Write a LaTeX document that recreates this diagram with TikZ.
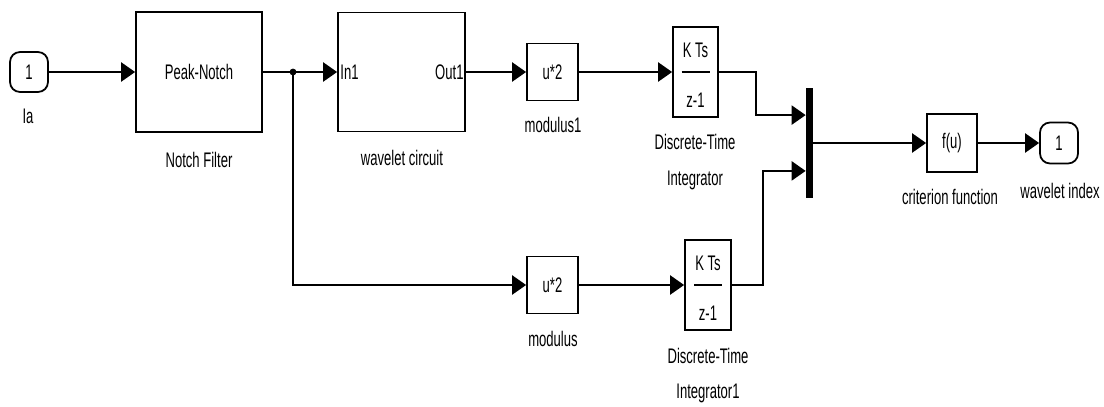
\documentclass[tikz,border=0pt]{standalone}
\usepackage{fontspec}
\setsansfont{Liberation Sans}[FakeStretch=0.62]
\usetikzlibrary{arrows.meta,calc,positioning}

\newcommand{\blkfont}{\fontsize{12}{14}\selectfont\sffamily}

\tikzset{
  blk/.style={draw, line width=1pt, inner sep=0pt, font=\blkfont},
  port/.style={draw, line width=1pt, rounded corners=0.2cm, inner sep=0pt,
    minimum width=0.76cm, minimum height=0.8cm, font=\blkfont},
  lbl/.style={inner sep=0pt, font=\blkfont},
  sig/.style={line width=1.3pt, -{Triangle[length=0.28cm,width=0.38cm]}},
  wire/.style={line width=1.3pt},
}

\begin{document}
\begin{tikzpicture}[x=0.02cm, y=-0.02cm]
\useasboundingbox (0,0) rectangle (1104,406);

% upper path
\node[port] (ia) at (29,72) {1};
\node[lbl] (ialbl) at (28,116) {Ia};

\node[blk, minimum width=2.52cm, minimum height=2.4cm] (notch) at (199,72) {Peak-Notch};
\node[lbl] (notchlbl) at (199,160) {Notch Filter};

\node[blk, minimum width=2.54cm, minimum height=2.38cm] (wav) at (401.5,72) {};
\node[lbl, anchor=west] (in1) at ($(wav.west) + (3,0)$) {In1};
\node[lbl, anchor=east] (out1) at ($(wav.east) + (-2,0)$) {Out1};
\node[lbl] (wavlbl) at (402,158) {wavelet circuit};

\node[blk, minimum width=1.02cm, minimum height=1.14cm] (mod1) at (552.5,72) {u*2};
\node[lbl] (mod1lbl) at (553,125) {modulus1};

\node[blk, minimum width=0.9cm, minimum height=1.8cm] (int1) at (695.5,72) {};
\node[lbl] (int1num) at ($(int1) + (0,-22)$) {K Ts};
\node[lbl] (int1den) at ($(int1) + (0,28)$) {z-1};
\draw[line width=1.1pt] ($(int1) + (-14,0)$) -- ($(int1) + (14,0)$);
\node[lbl] (int1lbla) at (695,142) {Discrete-Time};
\node[lbl] (int1lblb) at (695,180) {Integrator};

% lower path
\node[blk, minimum width=1.02cm, minimum height=1.14cm] (mod2) at (552.5,285) {u*2};
\node[lbl] (mod2lbl) at (553,339) {modulus};

\node[blk, minimum width=0.92cm, minimum height=1.8cm] (int2) at (708,285) {};
\node[lbl] (int2num) at ($(int2) + (0,-22)$) {K Ts};
\node[lbl] (int2den) at ($(int2) + (0,28)$) {z-1};
\draw[line width=1.1pt] ($(int2) + (-14,0)$) -- ($(int2) + (14,0)$);
\node[lbl] (int2lbla) at (708,356) {Discrete-Time};
\node[lbl] (int2lblb) at (708,393) {Integrator1};

% mux and output
\node[fill, inner sep=0pt, minimum width=0.14cm, minimum height=2.22cm] (mux) at (809.5,143) {};
\coordinate (muxa) at ($(mux.north west)!0.25!(mux.south west)$);
\coordinate (muxb) at ($(mux.north west)!0.75!(mux.south west)$);

\node[blk, minimum width=1cm, minimum height=1.16cm] (fu) at (952,143) {f(u)};
\node[lbl] (fulbl) at (950,197) {criterion function};

\node[port, minimum height=0.82cm] (wi) at (1059,143) {1};
\node[lbl] (wilbl) at (1060,191) {wavelet index};

% connectors
\coordinate (split) at (293,72);
\draw[sig] (ia) -- (notch);
\draw[wire] (notch) -- (split);
\draw[sig] (split) -- (wav.west);
\filldraw (split) circle [radius=1.7pt];
\draw[sig] (split) |- (mod2.west);
\draw[sig] (wav) -- (mod1);
\draw[sig] (mod1) -- (int1);
\draw[sig] (mod2) -- (int2);
\draw[sig] (int1.east) -- ++(37,0) |- (muxa);
\draw[sig] (int2.east) -- ++(31,0) |- (muxb);
\draw[sig] (mux) -- (fu);
\draw[sig] (fu) -- (wi);
\end{tikzpicture}
\end{document}
